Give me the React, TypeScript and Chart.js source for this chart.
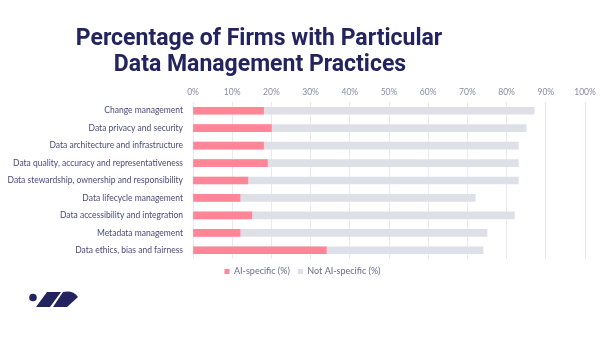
import React, { useEffect, useRef } from "react";
import { Chart, registerables } from "chart.js";

Chart.register(...registerables);

const categories = [
  "Change management",
  "Data privacy and security",
  "Data architecture and infrastructure",
  "Data quality, accuracy and representativeness",
  "Data stewardship, ownership and responsibility",
  "Data lifecycle management",
  "Data accessibility and integration",
  "Metadata management",
  "Data ethics, bias and fairness",
];
const aiSpecific = [18, 20, 18, 19, 14, 12, 15, 12, 34];
const notAiSpecific = [87, 85, 83, 83, 83, 72, 82, 75, 74];
const titleLines = ["Percentage of Firms with Particular", "Data Management Practices"];
const seriesNames = ["AI-specific (%)", "Not AI-specific (%)"];

const FONT = "Lato, 'Noto Sans', sans-serif";

const decorPlugin = {
  id: "decor",
  afterLayout(chart: any) {
    if (chart.legend) {
      chart.legend.left += 10;
      chart.legend.right += 10;
    }
  },
  afterDraw(chart: any) {
    const ctx = chart.ctx;
    ctx.save();
    // title
    ctx.fillStyle = "#23245f";
    ctx.font = "bold 23px Roboto, Inter, sans-serif";
    ctx.textAlign = "center";
    ctx.textBaseline = "alphabetic";
    ctx.fillText(titleLines[0], 259, 45);
    ctx.fillText(titleLines[1], 260, 71);
    // logo
    ctx.fillStyle = "#23245f";
    ctx.beginPath();
    ctx.arc(33, 297.5, 3.8, 0, Math.PI * 2);
    ctx.fill();
    ctx.beginPath();
    ctx.moveTo(47, 292);
    ctx.lineTo(61, 292);
    ctx.lineTo(50, 307);
    ctx.lineTo(36, 307);
    ctx.closePath();
    ctx.fill();
    ctx.beginPath();
    ctx.moveTo(63, 292);
    ctx.quadraticCurveTo(73, 290, 78, 297);
    ctx.lineTo(67, 307);
    ctx.lineTo(53, 307);
    ctx.closePath();
    ctx.fill();
    ctx.restore();
  },
};

export default function App() {
  const ref = useRef<HTMLCanvasElement>(null);
  useEffect(() => {
    document.body.style.margin = "0";
    const chart = new Chart(ref.current!, {
      type: "bar",
      data: {
        labels: categories,
        datasets: [
          {
            label: seriesNames[0],
            data: aiSpecific,
            backgroundColor: "#ff8597",
            grouped: false,
            barThickness: 7,
          },
          {
            label: seriesNames[1],
            data: notAiSpecific,
            backgroundColor: "#dfdfe7",
            grouped: false,
            barThickness: 7,
          },
        ],
      },
      options: {
        indexAxis: "y",
        animation: false,
        responsive: false,
        maintainAspectRatio: false,
        layout: { padding: { top: 80, right: 17, bottom: 52, left: 0 } },
        scales: {
          x: {
            position: "top",
            min: 0,
            max: 100,
            ticks: {
              stepSize: 10,
              callback: (v: any) => v + "%",
              color: "#8a89a8",
              font: { family: FONT, size: 8.5 },
              padding: 5,
            },
            grid: { color: "#eae8f4", drawTicks: false },
            border: { display: false },
            afterFit: (s: any) => {
              s.height = 22;
            },
          },
          y: {
            grid: { display: false },
            border: { display: false },
            ticks: {
              color: "#4b4a7c",
              font: { family: FONT, size: 8.5 },
              padding: 2,
            },
            afterFit: (s: any) => {
              s.width = 193;
            },
          },
        },
        plugins: {
          title: { display: false },
          tooltip: { enabled: false },
          legend: {
            position: "bottom",
            labels: {
              boxWidth: 5,
              boxHeight: 5,
              color: "#6b6a8c",
              font: { family: FONT, size: 9 },
              padding: 8,
            },
          },
        },
      },
      plugins: [decorPlugin],
    });
    return () => chart.destroy();
  }, []);
  return <canvas ref={ref} width={602} height={338} style={{ display: "block" }} />;
}
